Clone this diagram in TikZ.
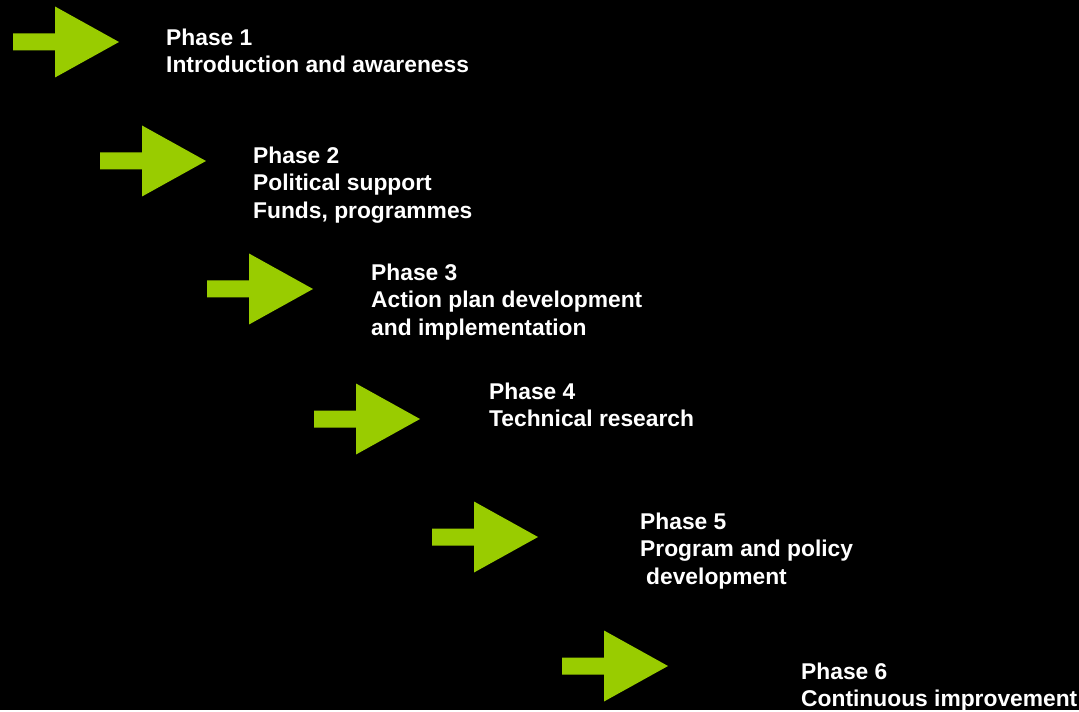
\documentclass[tikz,border=0pt]{standalone}
\usepackage{fontspec}
\setmainfont{Liberation Sans}
\definecolor{arrowgreen}{HTML}{99CC00}
\tikzset{
  phase/.style={anchor=north west, inner sep=0pt, align=left, text=white,
    font=\bfseries\fontsize{22.8}{27.6}\selectfont},
}
\begin{document}
\begin{tikzpicture}[x=1pt,y=-1pt]
  \fill[black] (0,0) rectangle (1079,710);
  % arrows: shaft start x / centre y
  \foreach \sx/\cy in {13/42, 100/161, 207/289, 314/419, 432/537, 562/666}
    \fill[arrowgreen] (\sx,\cy-8.5) -- ++(42,0) -- ++(0,-27) -- (\sx+106,\cy)
      -- (\sx+42,\cy+35.5) -- ++(0,-27) -- (\sx,\cy+8.5) -- cycle;
  \node[phase] (p1) at (166,28.5) {Phase 1\\Introduction and awareness};
  \node[phase] (p2) at (253,146.5) {Phase 2\\Political support\\Funds, programmes};
  \node[phase] (p3) at (371,263.5) {Phase 3\\Action plan development\\and implementation};
  \node[phase] (p4) at (489,382.5) {Phase 4\\Technical research};
  \node[phase] (p5) at (640,512.5) {Phase 5\\Program and policy\\\hspace*{6pt}development};
  \node[phase] (p6) at (801,662.5) {Phase 6\\Continuous improvement};
\end{tikzpicture}
\end{document}
